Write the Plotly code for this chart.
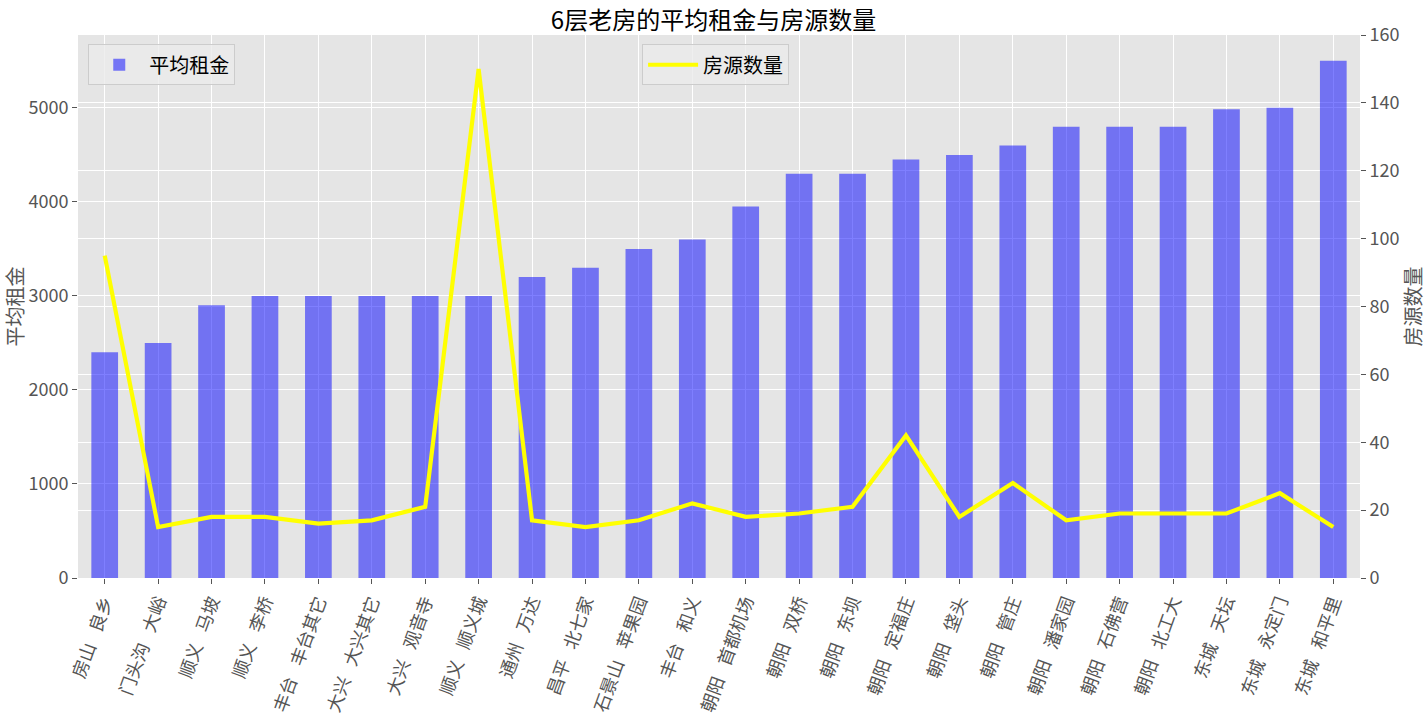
import plotly.graph_objects as go

categories = ["房山  良乡", "门头沟  大峪", "顺义  马坡", "顺义  李桥", "丰台  丰台其它", "大兴  大兴其它",
              "大兴  观音寺", "顺义  顺义城", "通州  万达", "昌平  北七家", "石景山  苹果园", "丰台  和义",
              "朝阳  首都机场", "朝阳  双桥", "朝阳  东坝", "朝阳  定福庄", "朝阳  垡头", "朝阳  管庄",
              "朝阳  潘家园", "朝阳  石佛营", "朝阳  北工大", "东城  天坛", "东城  永定门", "东城  和平里"]
avg_rent = [2400, 2500, 2900, 3000, 3000, 3000, 3000, 3000, 3200, 3300, 3500, 3600,
            3950, 4300, 4300, 4450, 4500, 4600, 4800, 4800, 4800, 4985, 5000, 5500]
house_count = [95, 15, 18, 18, 16, 17, 21, 150, 17, 15, 17, 22,
               18, 19, 21, 42, 18, 28, 17, 19, 19, 19, 25, 15]

left_ticks = [0, 1000, 2000, 3000, 4000, 5000]
right_ticks = [0, 20, 40, 60, 80, 100, 120, 140, 160]

FONT = "Noto Sans CJK SC"
labels = [c.replace("  ", "\u2002\u00a0") for c in categories]
xi = list(range(len(categories)))

fig = go.Figure()
fig.add_trace(go.Bar(x=xi, y=avg_rent, name="平均租金", width=0.5,
                     marker=dict(color="rgba(0,0,255,0.5)", line=dict(width=0)),
                     legend="legend", yaxis="y"))
fig.add_trace(go.Scatter(x=xi, y=house_count, name="房源数量", mode="lines",
                         line=dict(color="#ffff00", width=4.2),
                         legend="legend2", yaxis="y2"))

fig.update_layout(
    width=1427, height=720,
    margin=dict(l=78, r=67, t=35, b=142),
    paper_bgcolor="white", plot_bgcolor="#E5E5E5",
    font=dict(family=FONT, color="#555555", size=18),
    title=dict(text="6层老房的平均租金与房源数量", x=0.5, xanchor="center",
               y=0.971, yanchor="middle", yref="container",
               font=dict(family=FONT, size=24, color="black")),
    xaxis=dict(range=[-0.5, len(categories) - 0.5], tickmode="array", tickvals=xi, ticktext=labels,
               tickangle=-70, showgrid=True, gridcolor="white", gridwidth=1, automargin=False,
               ticks="outside", ticklen=5, tickcolor="#555555", zeroline=False,
               tickfont=dict(size=18, color="#555555")),
    yaxis=dict(range=[0, 5775], tickvals=left_ticks, showgrid=True, gridcolor="white", gridwidth=1,
               ticks="outside", ticklen=5, tickcolor="#555555", zeroline=False, automargin=False,
               title=dict(text="平均租金", font=dict(size=20, color="#555555"), standoff=10),
               tickfont=dict(size=18, color="#555555")),
    yaxis2=dict(range=[0, 160], tickvals=right_ticks, overlaying="y", side="right",
                showgrid=True, gridcolor="white", gridwidth=1, automargin=False,
                ticks="outside", ticklen=5, tickcolor="#555555", zeroline=False,
                title=dict(text="房源数量", font=dict(size=20, color="#555555"), standoff=12),
                tickfont=dict(size=18, color="#555555")),
    legend=dict(x=0.008, y=0.983, xanchor="left", yanchor="top", itemwidth=50,
                bgcolor="rgba(235,235,235,0.8)", bordercolor="#cccccc", borderwidth=1,
                font=dict(size=20, color="black")),
    legend2=dict(x=0.44, y=0.983, xanchor="left", yanchor="top", itemwidth=50,
                 bgcolor="rgba(235,235,235,0.8)", bordercolor="#cccccc", borderwidth=1,
                 font=dict(size=20, color="black")),
    showlegend=True,
)

fig.write_html("out.html")
